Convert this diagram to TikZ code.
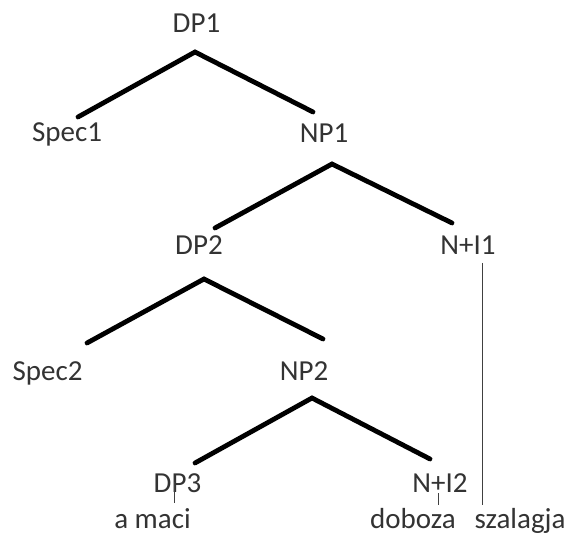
\documentclass[tikz,border=0pt]{standalone}
\usepackage{fontspec}
\setmainfont{Carlito}
\begin{document}
\begin{tikzpicture}[x=1pt,y=1pt,
  lab/.style={anchor=base,inner sep=0pt,font=\fontsize{29}{34}\selectfont,text=black!80},
  branch/.style={line width=4.8pt,line cap=round,line join=miter},
  stem/.style={line width=1pt,black!75}]
\useasboundingbox (0,0) rectangle (576,539);
% labels
\node[lab] (dp1) at (196.5,506) {DP1};
\node[lab] (spec1) at (67,397) {Spec1};
\node[lab] (np1) at (324,396) {NP1};
\node[lab] (dp2) at (199,284) {DP2};
\node[lab] (ni1) at (468,284) {N+I1};
\node[lab] (spec2) at (47.5,159) {Spec2};
\node[lab] (np2) at (304,159) {NP2};
\node[lab] (dp3) at (177.5,47) {DP3};
\node[lab] (ni2) at (440,47) {N+I2};
\node[lab] (amaci) at (152.5,11) {a maci};
\node[lab] (doboza) at (413,11) {doboza};
\node[lab] (szalagja) at (520,11) {szalagja};
% branch coordinates
\coordinate (a1) at (195,487);
\coordinate (a1l) at (78,422);
\coordinate (a1r) at (313,427);
\coordinate (a2) at (332,375);
\coordinate (a2l) at (215,311);
\coordinate (a2r) at (452,316);
\coordinate (a3) at (204,260);
\coordinate (a3l) at (87,196);
\coordinate (a3r) at (323,200);
\coordinate (a4) at (312,141);
\coordinate (a4l) at (195,76);
\coordinate (a4r) at (430,80);
\draw[branch] (a1l) -- (a1) -- (a1r);
\draw[branch] (a2l) -- (a2) -- (a2r);
\draw[branch] (a3l) -- (a3) -- (a3r);
\draw[branch] (a4l) -- (a4) -- (a4r);
% stems
\coordinate (s1t) at (482,276);
\coordinate (s1b) at (482,34);
\coordinate (s2t) at (174,57);
\coordinate (s2b) at (174,36);
\coordinate (s3t) at (438,46);
\coordinate (s3b) at (438,34);
\draw[stem] (s1t) -- (s1b);
\draw[stem] (s2t) -- (s2b);
\draw[stem] (s3t) -- (s3b);
\end{tikzpicture}
\end{document}
